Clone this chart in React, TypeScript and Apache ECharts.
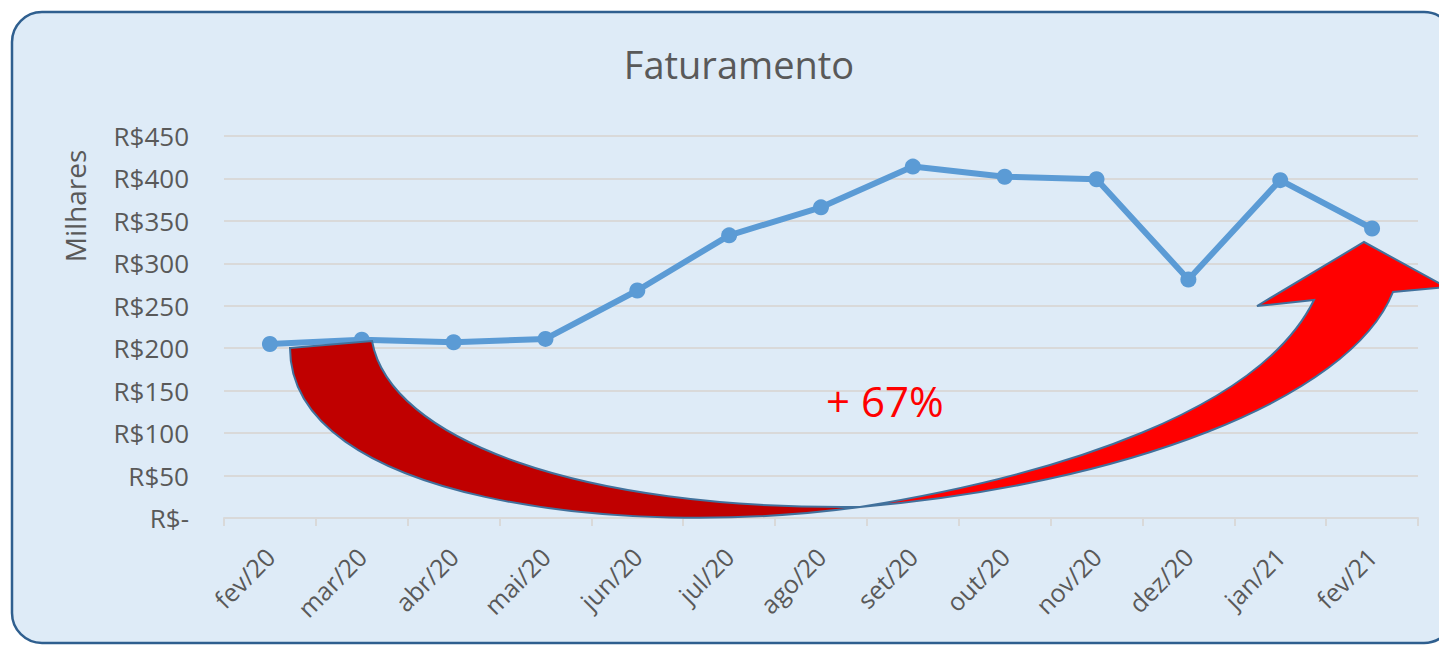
import React, { useEffect, useRef } from "react";
import * as echarts from "echarts";

const categories = ["fev/20", "mar/20", "abr/20", "mai/20", "jun/20", "jul/20", "ago/20", "set/20", "out/20", "nov/20", "dez/20", "jan/21", "fev/21"];
const faturamento = [205, 210, 207, 211, 268, 333, 366, 414, 402, 399, 281, 398, 341];
const yMin = 0;
const yMax = 450;
const yStep = 50;
const titleText = "Faturamento";
const yAxisName = "Milhares";
const growthLabel = "+ 67%";

const ARROW_LEFT_D = "M290 348 L372 341 C390 440 580 510 860 507 C620 540 290 500 290 348 Z";
const ARROW_RIGHT_D = "M860 507 C1060 475 1260 410 1314 300 L1257 306 L1364 242 L1446 287 L1393 292 C1350 400 1120 485 860 507 Z";

let registered = false;
function registerShapes() {
  if (registered) return;
  registered = true;
  echarts.graphic.registerShape("arrowLeftPart", echarts.graphic.extendPath(ARROW_LEFT_D, {}));
  echarts.graphic.registerShape("arrowRightPart", echarts.graphic.extendPath(ARROW_RIGHT_D, {}));
}

export default function App() {
  const ref = useRef<HTMLDivElement>(null);
  useEffect(() => {
    registerShapes();
    const chart = echarts.init(ref.current!, null, { renderer: "svg" });
    const font = "'Open Sans', 'Noto Sans', sans-serif";
    chart.setOption({
      animation: false,
      backgroundColor: "#ffffff",
      title: {
        text: titleText,
        left: 734,
        top: 40,
        textAlign: "center",
        textStyle: { fontFamily: font, fontSize: 38, fontWeight: "normal", color: "#595959" },
      },
      grid: { left: 224, right: 21, top: 136, bottom: 128, containLabel: false },
      xAxis: {
        type: "category",
        data: categories,
        boundaryGap: true,
        axisLine: { lineStyle: { color: "#d9d9d9", width: 2 } },
        axisTick: { show: true, length: 8, lineStyle: { color: "#d9d9d9", width: 2 } },
        axisLabel: {
          rotate: 45,
          margin: 34,
          fontFamily: font,
          fontSize: 25,
          color: "#595959",
          interval: 0,
        },
        splitLine: { show: false },
      },
      yAxis: {
        type: "value",
        min: yMin,
        max: yMax,
        interval: yStep,
        axisLine: { show: false },
        axisTick: { show: false },
        axisLabel: {
          margin: 35,
          fontFamily: font,
          fontSize: 26,
          color: "#595959",
          formatter: (v: number) => (v === 0 ? "R$-" : "R$" + v),
        },
        splitLine: { lineStyle: { color: "#d9d9d9", width: 2 } },
      },
      series: [
        {
          type: "line",
          data: faturamento,
          symbol: "circle",
          symbolSize: 16,
          lineStyle: { color: "#5b9bd5", width: 6 },
          itemStyle: { color: "#5b9bd5" },
          z: 3,
        },
      ],
      graphic: [
        {
          type: "rect",
          z: -10,
          shape: { x: 12, y: 12, width: 1442, height: 631, r: 30 },
          style: { fill: "#deebf7", stroke: "#2f5f8f", lineWidth: 2.5 },
          silent: true,
        },
        {
          type: "text",
          x: 75,
          y: 206,
          rotation: Math.PI / 2,
          style: {
            text: yAxisName,
            fontFamily: font,
            fontSize: 28,
            fill: "#595959",
            align: "center",
            verticalAlign: "middle",
          },
          silent: true,
        },
        {
          type: "arrowLeftPart",
          z: 100,
          x: 0,
          y: 0,
          style: { fill: "#c00000", stroke: "#41719c", lineWidth: 2 },
          silent: true,
        },
        {
          type: "arrowRightPart",
          z: 100,
          x: 0,
          y: 0,
          style: { fill: "#ff0000", stroke: "#41719c", lineWidth: 2 },
          silent: true,
        },
        {
          type: "text",
          z: 101,
          x: 826,
          y: 400,
          style: {
            text: growthLabel,
            fontFamily: font,
            fontSize: 42,
            fill: "#ff0000",
            align: "left",
            verticalAlign: "middle",
          },
          silent: true,
        },
      ],
    });
    return () => chart.dispose();
  }, []);
  return (
    <div
      ref={ref}
      style={{ position: "fixed", left: 0, top: 0, width: 1439, height: 646 }}
    />
  );
}
